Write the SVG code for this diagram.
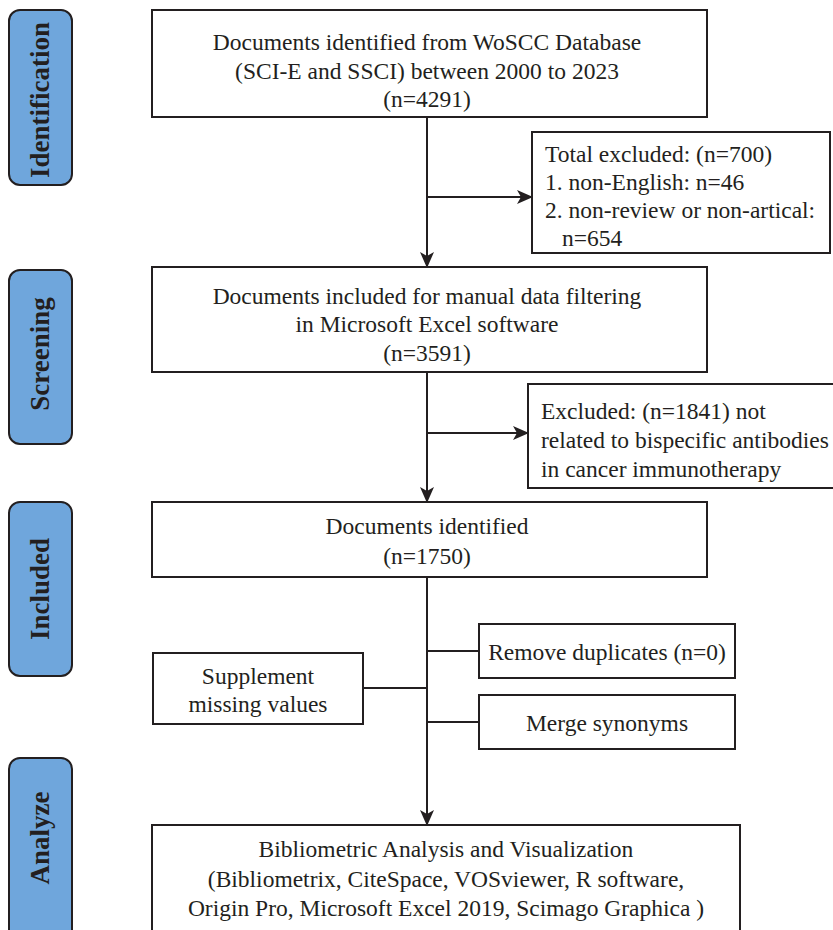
<svg xmlns="http://www.w3.org/2000/svg" width="833" height="930" viewBox="0 0 833 930">
<style>
.box{fill:#fff;stroke:#231f20;stroke-width:2}
.lab{fill:#6fa6dc;stroke:#231f20;stroke-width:2}
.t{font-family:"Liberation Serif","Times New Roman",serif;font-size:23.5px;fill:#231f20}
.c{text-anchor:middle}
.lt{font-family:"Liberation Serif","Times New Roman",serif;font-size:27px;font-weight:bold;fill:#231f20;text-anchor:middle}
.ln{fill:none;stroke:#231f20;stroke-width:2}
</style>
<defs>
<marker id="ah" markerWidth="16" markerHeight="14" refX="15" refY="7" orient="auto" markerUnits="userSpaceOnUse">
<path d="M0,0 L16,7 L0,14 L4,7 Z" fill="#231f20"/>
</marker>
</defs>
<g id="label-identification"><rect class="lab" x="9" y="10" width="63" height="175" rx="11"/><text class="lt" transform="translate(49,100) rotate(-90)">Identification</text></g>
<g id="label-screening"><rect class="lab" x="9" y="270" width="63" height="174" rx="11"/><text class="lt" transform="translate(49,354) rotate(-90)">Screening</text></g>
<g id="label-included"><rect class="lab" x="9" y="502" width="63" height="174" rx="11"/><text class="lt" transform="translate(49,589) rotate(-90)">Included</text></g>
<g id="label-analyze"><rect class="lab" x="9" y="758" width="63" height="190" rx="11"/><text class="lt" transform="translate(49,838) rotate(-90)">Analyze</text></g>
<g id="connectors">
<path class="ln" d="M427,117 V267" marker-end="url(#ah)"/>
<path class="ln" d="M427,197 H532" marker-end="url(#ah)"/>
<path class="ln" d="M427,372 V502" marker-end="url(#ah)"/>
<path class="ln" d="M427,433 H528" marker-end="url(#ah)"/>
<path class="ln" d="M427,577 V825" marker-end="url(#ah)"/>
<path class="ln" d="M427,651 H479"/>
<path class="ln" d="M427,722 H479"/>
<path class="ln" d="M363,688 H427"/>
</g>
<g id="n1"><rect class="box" x="152" y="10" width="555" height="107"/>
<text class="t c" x="427" y="50">Documents identified from WoSCC Database</text>
<text class="t c" x="427" y="79">(SCI-E and SSCI) between 2000 to 2023</text>
<text class="t c" x="427" y="107">(n=4291)</text></g>
<g id="n2"><rect class="box" x="532" y="132" width="298" height="121"/>
<text class="t" x="545" y="162">Total excluded: (n=700)</text>
<text class="t" x="545" y="190">1. non-English: n=46</text>
<text class="t" x="545" y="218">2. non-review or non-artical:</text>
<text class="t" x="562" y="246">n=654</text></g>
<g id="n3"><rect class="box" x="152" y="267" width="555" height="105"/>
<text class="t c" x="427" y="304">Documents included for manual data filtering</text>
<text class="t c" x="427" y="332">in Microsoft Excel software</text>
<text class="t c" x="427" y="361">(n=3591)</text></g>
<g id="n4"><rect class="box" x="528" y="384" width="310" height="104"/>
<text class="t" x="541" y="419">Excluded: (n=1841) not</text>
<text class="t" x="541" y="448">related to bispecific antibodies</text>
<text class="t" x="541" y="477">in cancer immunotherapy</text></g>
<g id="n5"><rect class="box" x="152" y="502" width="555" height="75"/>
<text class="t c" x="427" y="534">Documents identified</text>
<text class="t c" x="427" y="564">(n=1750)</text></g>
<g id="n6"><rect class="box" x="479" y="624" width="256" height="54"/>
<text class="t c" x="607" y="660">Remove duplicates (n=0)</text></g>
<g id="n7"><rect class="box" x="479" y="695" width="256" height="54"/>
<text class="t c" x="607" y="731">Merge synonyms</text></g>
<g id="n8"><rect class="box" x="153" y="653" width="210" height="71"/>
<text class="t c" x="258" y="684">Supplement</text>
<text class="t c" x="258" y="712">missing values</text></g>
<g id="n9"><rect class="box" x="152" y="825" width="588" height="120"/>
<text class="t c" x="446" y="857">Bibliometric Analysis and Visualization</text>
<text class="t c" x="446" y="887">(Bibliometrix, CiteSpace, VOSviewer, R software,</text>
<text class="t c" x="446" y="916">Origin Pro, Microsoft Excel 2019, Scimago Graphica )</text></g>
</svg>
